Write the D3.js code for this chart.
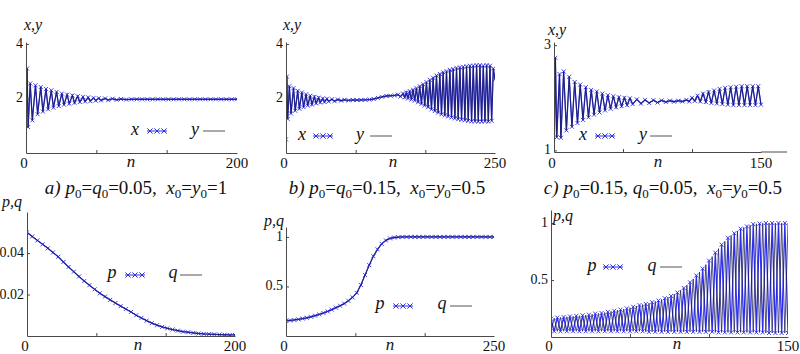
<!DOCTYPE html>
<html>
<head>
<meta charset="utf-8">
<script src="https://cdn.jsdelivr.net/npm/d3@7"></script>
<style>
body { margin: 0; background: #fff; }
svg text { fill: #111; white-space: pre; }
</style>
</head>
<body>
<svg width="800" height="354"></svg>
<script>
// ---- data: [n, value] ----
// a) top: turning points of x (y follows x, symmetric start)
var xA = [[0,1.0],[1,3.1],[2,0.95],[4,2.55],[6,1.2],[9,2.48],[11,1.42],[14,2.42],[16,1.52],[19,2.35],[21,1.6],[24,2.3],[26,1.66],[29,2.24],[31,1.72],[34,2.18],[36,1.77],[39,2.14],[41,1.81],[44,2.11],[46,1.84],[49,2.08],[51,1.87],[54,2.06],[56,1.89],[59,2.04],[61,1.9],[64,2.02],[66,1.92],[69,2.01],[71,1.93],[75,2.0],[78,1.94],[82,1.99],[86,1.95],[90,1.98],[95,1.96],
  [100,1.97],[105,1.97],[110,1.97],[115,1.97],[120,1.97],[125,1.97],[130,1.97],[135,1.97],[140,1.97],[145,1.97],[150,1.97],[155,1.97],[160,1.97],[165,1.97],[170,1.97],[175,1.97],[180,1.97],[185,1.97],[190,1.97],[195,1.97],[200,1.97]];
var yA = xA;

// b) top
var xB = [[0,0.5],[1,2.8],[2,1.25],[4,2.45],[6,1.45],[9,2.38],[11,1.55],[14,2.28],[16,1.62],[19,2.22],[21,1.68],[24,2.15],[26,1.74],[29,2.1],[31,1.78],[34,2.06],[36,1.82],[39,2.03],[41,1.85],[44,2.0],[46,1.87],[49,1.99],[51,1.89],[55,1.97],[58,1.9],[62,1.96],[66,1.92],[70,1.95],[75,1.93],[80,1.945],[85,1.94],[90,1.945],[95,1.95],[100,1.96],[105,1.98],[110,2.02],[115,2.06],[120,2.09],[125,2.1],[130,2.11],
  [134,2.14],[137,2.07],[140,2.18],[142,2.04],[144,2.22],[146,2.0],[148,2.27],[150,1.96],[152,2.32],[154,1.92],[156,2.38],[158,1.86],[160,2.45],[162,1.8],[164,2.52],[166,1.74],[168,2.6],[170,1.68],[172,2.68],[174,1.6],[176,2.76],[178,1.54],[180,2.84],[182,1.48],[184,2.9],[186,1.42],[188,2.96],[190,1.38],[192,3.0],[194,1.34],[196,3.05],[198,1.3],[200,3.08],
  [202,1.27],[204,3.12],[206,1.24],[208,3.14],[210,1.22],[212,3.16],[214,1.2],[216,3.18],[218,1.18],[220,3.2],[222,1.16],[224,3.2],[226,1.16],[228,3.22],[230,1.15],[232,3.22],[234,1.15],[236,3.2],[238,1.16],[240,3.22],[242,1.15],[244,3.2],[246,1.18],[248,3.1],[250,2.7]];
var yB = xB;

// c) top
var xC = [[0,0.5],[1,2.76],[2,1.25],[4,2.45],[5,1.24],[7,2.5],[9,1.38],[11,2.4],[13,1.45],[15,2.3],[17,1.52],[19,2.25],[21,1.58],[23,2.2],[25,1.63],[27,2.15],[29,1.68],[31,2.12],[33,1.72],[35,2.08],[37,1.76],[39,2.05],[41,1.79],[43,2.03],[45,1.82],[47,2.01],[49,1.84],[51,2.0],[53,1.86],[55,1.99],[57,1.88],[60,1.97],[63,1.89],[66,1.96],[69,1.9],[72,1.955],[75,1.91],[78,1.95],[81,1.92],[84,1.945],[87,1.925],[90,1.945],[93,1.93],[96,1.96],[98,1.93],
  [100,2.0],[102,1.94],[104,2.04],[106,1.93],[108,2.08],[110,1.92],[112,2.11],[114,1.9],[116,2.14],[118,1.89],[120,2.17],[122,1.88],[124,2.19],[126,1.87],[128,2.2],[130,1.86],[132,2.21],[134,1.86],[136,2.22],[138,1.86],[140,2.22],[142,1.86],[144,2.22],[146,1.86],[148,2.22],[150,1.87]];
var yC = xC;

// a) bottom: p = q
var pD = [[0,0.05],[5,0.048],[10,0.0461],[15,0.0442],[20,0.0423],[25,0.0403],[30,0.0382],[35,0.0357],[40,0.0333],[45,0.031],[50,0.0287],[55,0.0265],[60,0.0245],[65,0.0225],[70,0.0206],[75,0.019],[80,0.0174],[85,0.0159],[90,0.0144],[95,0.013],[100,0.0116],
  [105,0.01],[110,0.0087],[115,0.0074],[120,0.0062],[125,0.0052],[130,0.0044],[135,0.0037],[140,0.0031],[145,0.0026],[150,0.0021],[155,0.0018],[160,0.0015],[165,0.0012],[170,0.001],[175,0.0009],[180,0.0008],[185,0.0007],[190,0.0006],[195,0.0005],[200,0.0005]];
var qD = pD;

// b) bottom: p = q
var pE = [[0,0.153],[5,0.157],[10,0.162],[15,0.168],[20,0.176],[25,0.184],[30,0.194],[35,0.205],[40,0.218],[45,0.232],[50,0.248],[55,0.266],[60,0.286],[65,0.305],[70,0.327],[75,0.355],[80,0.39],[85,0.435],[90,0.515],[95,0.615],[100,0.715],[105,0.805],[110,0.875],[115,0.93],[120,0.965],[125,0.985],
  [130,0.994],[135,0.998],[140,1],[145,1],[150,1],[155,1],[160,1],[165,1],[170,1],[175,1],[180,1],[185,1],[190,1],[195,1],[200,1],[205,1],[210,1],[215,1],[220,1],[225,1],[230,1],[235,1],[240,1],[245,1],[250,1]];
var qE = pE;

// c) bottom: p and q swap between upper and lower values
var pF = [[0,0.16],[2,0.05],[4,0.17],[6,0.05],[8,0.175],[10,0.05],[12,0.18],[14,0.05],[16,0.185],[18,0.05],[20,0.19],[22,0.05],[24,0.195],[26,0.05],[28,0.205],[30,0.05],[32,0.21],[34,0.05],[36,0.22],[38,0.05],[40,0.23],[42,0.05],[44,0.24],[46,0.05],[48,0.25],[50,0.05],[52,0.265],[54,0.05],[56,0.28],[58,0.05],
  [60,0.29],[62,0.045],[64,0.305],[66,0.045],[68,0.32],[70,0.045],[72,0.34],[74,0.045],[76,0.36],[78,0.045],[80,0.39],[82,0.045],[84,0.43],[86,0.045],[88,0.48],[90,0.045],[92,0.54],[94,0.045],[96,0.6],[98,0.045],[100,0.67],[102,0.045],[104,0.74],[106,0.04],[108,0.81],[110,0.04],[112,0.87],[114,0.04],[116,0.91],[118,0.04],
  [120,0.95],[122,0.04],[124,0.97],[126,0.04],[128,0.99],[130,0.04],[132,0.995],[134,0.04],[136,1],[138,0.035],[140,1],[142,0.035],[144,1],[146,0.035],[148,1],[150,0.035]];
var qF = [[0,0.05],[2,0.165],[4,0.05],[6,0.172],[8,0.05],[10,0.178],[12,0.05],[14,0.182],[16,0.05],[18,0.187],[20,0.05],[22,0.192],[24,0.05],[26,0.2],[28,0.05],[30,0.207],[32,0.05],[34,0.215],[36,0.05],[38,0.225],[40,0.05],[42,0.235],[44,0.05],[46,0.245],[48,0.05],[50,0.257],[52,0.05],[54,0.272],[56,0.05],[58,0.285],
  [60,0.045],[62,0.297],[64,0.045],[66,0.312],[68,0.045],[70,0.33],[72,0.045],[74,0.35],[76,0.045],[78,0.375],[80,0.045],[82,0.41],[84,0.045],[86,0.455],[88,0.045],[90,0.51],[92,0.045],[94,0.57],[96,0.045],[98,0.635],[100,0.045],[102,0.705],[104,0.04],[106,0.775],[108,0.04],[110,0.84],[112,0.04],[114,0.89],[116,0.04],[118,0.93],
  [120,0.04],[122,0.96],[124,0.04],[126,0.98],[128,0.04],[130,0.993],[132,0.04],[134,0.998],[136,0.035],[138,1],[140,0.035],[142,1],[144,0.035],[146,1],[148,0.035],[150,1]];

var yTicksA = [2, 4], yTicksC = [1, 3], yTicksD = [0.02, 0.04], yTicksE = [0.5, 1];
var yLabelsD = ["0.02", "0.04"], yLabelsE = ["0.5", "1"];

var titleA = [["a)",1],[" "],["p",1],["0",2],["="],["q",1],["0",2],["=0.05,  "],["x",1],["0",2],["="],["y",1],["0",2],["=1"]];
var titleB = [["b)",1],[" "],["p",1],["0",2],["="],["q",1],["0",2],["=0.15,  "],["x",1],["0",2],["="],["y",1],["0",2],["=0.5"]];
var titleC = [["c)",1],[" "],["p",1],["0",2],["=0.15, "],["q",1],["0",2],["=0.05,  "],["x",1],["0",2],["="],["y",1],["0",2],["=0.5"]];

// ---- drawing ----
var svg = d3.select("svg");
var serif = "Liberation Serif, Times New Roman, Times, Tinos, DejaVu Serif, Noto Serif, serif";
var blue = "#2e2ee8", dark = "#1d1d5a", axisCol = "#4a4a4a";

var panels = [
  {s1: xA, s2: yA, xd: [0,200], xr: [26,237], yd: [0,4.07], yr: [153,42], yt: yTicksA, yl: ["2","4"], xEnd: 237,
   names: ["x","y"], axLab: "x,y", axPos: [33,30], nPos: [131,167], tickY: 168,
   leg: {t1: 135, by: 135, m0: 147, my: 131, t2: 195, l0: 203}},
  {s1: xB, s2: yB, xd: [0,250], xr: [286,495], yd: [0,4.07], yr: [153,42], yt: yTicksA, yl: ["2","4"], xEnd: 495,
   names: ["x","y"], axLab: "x,y", axPos: [292,30], nPos: [393,167], tickY: 168,
   leg: {t1: 302, by: 140, m0: 313, my: 136, t2: 360, l0: 370}},
  {s1: xC, s2: yC, xd: [0,150], xr: [554,761], yd: [0.97,3.06], yr: [152,42], yt: yTicksC, yl: ["1","3"], xEnd: 787,
   names: ["x","y"], axLab: "x,y", axPos: [557,35], nPos: [658,167], tickY: 168,
   leg: {t1: 583, by: 140, m0: 595, my: 136, t2: 643, l0: 650}},
  {s1: pD, s2: qD, xd: [0,200], xr: [27,235], yd: [0,0.0598], yr: [336,212], yt: yTicksD, yl: yLabelsD, xEnd: 235,
   names: ["p","q"], axLab: "p,q", axPos: [12,207], nPos: [138,350], tickY: 351,
   leg: {t1: 112, by: 278, m0: 125, my: 275, t2: 173, l0: 180}},
  {s1: pE, s2: qE, xd: [0,250], xr: [286,494], yd: [0,1.10], yr: [336,227], yt: yTicksE, yl: yLabelsE, xEnd: 494,
   names: ["p","q"], axLab: "p,q", axPos: [274,226], nPos: [390,350], tickY: 351,
   leg: {t1: 380, by: 309, m0: 393, my: 306, t2: 442, l0: 450}},
  {s1: pF, s2: qF, xd: [0,150], xr: [551,788], yd: [0,1.114], yr: [337,210], yt: yTicksE, yl: yLabelsE, xEnd: 788,
   names: ["p","q"], axLab: "p,q", axPos: [563,221], nPos: [677,349], tickY: 351,
   leg: {t1: 592, by: 271, m0: 603, my: 267, t2: 652, l0: 660}}
];

function cross(s) { return "M" + (-s) + "," + (-s) + "L" + s + "," + s + "M" + (-s) + "," + s + "L" + s + "," + (-s); }

function label(g, x, y, txt, size, italic, anchor) {
  return g.append("text").attr("x", x).attr("y", y).attr("text-anchor", anchor || "middle")
    .attr("font-family", serif).attr("font-size", size)
    .attr("font-style", italic ? "italic" : "normal").text(txt);
}

panels.forEach(function (p, i) {
  var x = d3.scaleLinear().domain(p.xd).range(p.xr);
  var y = d3.scaleLinear().domain(p.yd).range(p.yr);
  var g = svg.append("g");

  g.append("clipPath").attr("id", "clip" + i).append("rect")
    .attr("x", p.xr[0]).attr("y", p.yr[1])
    .attr("width", p.xEnd - p.xr[0]).attr("height", p.yr[0] - p.yr[1]);

  var plot = g.append("g").attr("clip-path", "url(#clip" + i + ")");
  var line = d3.line().x(function (d) { return x(d[0]); }).y(function (d) { return y(d[1]); });

  plot.append("path").datum(p.s1).attr("d", line)
    .attr("fill", "none").attr("stroke", blue).attr("stroke-width", 1.3);
  plot.selectAll(".mk").data(p.s1).join("path").attr("class", "mk")
    .attr("transform", function (d) { return "translate(" + x(d[0]) + "," + y(d[1]) + ")"; })
    .attr("d", cross(2)).attr("fill", "none").attr("stroke", blue).attr("stroke-width", 0.9);
  plot.append("path").datum(p.s2).attr("d", line)
    .attr("fill", "none").attr("stroke", dark).attr("stroke-width", 0.9).attr("opacity", 0.85);

  // axes
  var n3 = p.xd[1] / 3;
  var xAxis = d3.axisBottom(x).tickValues([n3, 2 * n3]).tickSize(-3).tickSizeOuter(0).tickFormat("");
  var yAxis = d3.axisLeft(y).tickValues(p.yt).tickSize(-3).tickSizeOuter(0).tickFormat("");
  var ax = g.append("g").attr("transform", "translate(0," + p.yr[0] + ")").call(xAxis);
  var ay = g.append("g").attr("transform", "translate(" + p.xr[0] + ",0)").call(yAxis);
  [ax, ay].forEach(function (a) { a.selectAll("path, line").attr("stroke", axisCol); });
  if (p.xEnd > p.xr[1]) {
    g.append("line").attr("x1", p.xr[1]).attr("x2", p.xEnd).attr("y1", p.yr[0]).attr("y2", p.yr[0])
      .attr("stroke", axisCol);
  }

  // tick labels
  label(g, x(0) - 2, p.tickY, "0", 15);
  label(g, x(p.xd[1]), p.tickY, String(p.xd[1]), 15);
  p.yt.forEach(function (v, k) {
    label(g, p.xr[0] - 3, y(v) + 4, p.yl[k], 14, false, "end");
  });

  // axis labels
  label(g, p.axPos[0], p.axPos[1], p.axLab, 16, true);
  label(g, p.nPos[0], p.nPos[1], "n", 17, true);

  // legend
  var L = p.leg;
  label(g, L.t1, L.by, p.names[0], 18, true);
  g.append("line").attr("x1", L.m0).attr("x2", L.m0 + 20).attr("y1", L.my).attr("y2", L.my)
    .attr("stroke", blue).attr("stroke-width", 1);
  g.selectAll(".lm").data([3, 10, 17]).join("path").attr("class", "lm")
    .attr("transform", function (d) { return "translate(" + (L.m0 + d) + "," + L.my + ")"; })
    .attr("d", cross(2.6)).attr("fill", "none").attr("stroke", blue).attr("stroke-width", 1);
  label(g, L.t2, L.by, p.names[1], 18, true);
  g.append("line").attr("x1", L.l0).attr("x2", L.l0 + 22).attr("y1", L.my).attr("y2", L.my)
    .attr("stroke", "#555").attr("stroke-width", 1);
});

// titles
[[titleA, 136], [titleB, 387], [titleC, 663]].forEach(function (t) {
  var txt = label(svg, t[1], 194, "", 19);
  var shifted = false;
  t[0].forEach(function (seg) {
    var ts = txt.append("tspan").text(seg[0]);
    if (seg[1] === 1) ts.attr("font-style", "italic");
    if (seg[1] === 2) { ts.attr("font-size", 13).attr("dy", 4); shifted = true; }
    else if (shifted) { ts.attr("dy", -4); shifted = false; }
  });
});
</script>
</body>
</html>
